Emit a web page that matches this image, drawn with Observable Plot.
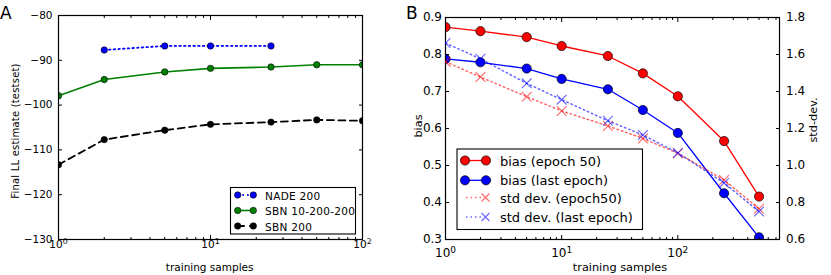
<!DOCTYPE html>
<html><head><meta charset="utf-8">
<script src="https://cdn.jsdelivr.net/npm/d3@7"></script>
<script src="https://cdn.jsdelivr.net/npm/@observablehq/plot@0.6"></script>
<style>
body{margin:0;background:#fff;font-family:"DejaVu Sans",sans-serif;}
#wrap{position:relative;width:831px;height:275px;overflow:hidden;background:#fff}
#wrap svg{position:absolute;top:0}
</style></head><body><div id="wrap"></div>
<script>
// ---- Panel A data ----
const samplesA = [1, 2, 5, 10, 25, 50, 100];
const samplesNade = [2, 5, 10, 25];
const nade200 = [-87.7, -86.8, -86.8, -86.8];
const sbn10_200_200 = [-97.9, -94.3, -92.6, -91.8, -91.5, -91.0, -91.0];
const sbn200 = [-113.3, -107.7, -105.6, -104.3, -103.8, -103.3, -103.5];
const yTicksA = [-130, -120, -110, -100, -90, -80];
const decadesA = [1, 10, 100];
const legendA = ["NADE 200", "SBN 10-200-200", "SBN 200"];

// ---- Panel B data ----
const samplesB = [1, 2, 5, 10, 25, 50, 100, 250, 500];
const biasEpoch50 = [0.874, 0.863, 0.847, 0.823, 0.796, 0.749, 0.687, 0.566, 0.416];
const biasLastEpoch = [0.788, 0.779, 0.762, 0.734, 0.706, 0.650, 0.588, 0.425, 0.306];
const stdEpoch50 = [1.561, 1.478, 1.372, 1.295, 1.214, 1.146, 1.066, 0.922, 0.766];
const stdLastEpoch = [1.662, 1.577, 1.444, 1.356, 1.242, 1.165, 1.068, 0.906, 0.751];
const yTicksB = [0.3, 0.4, 0.5, 0.6, 0.7, 0.8, 0.9];
const yTicksB2 = [0.6, 0.8, 1.0, 1.2, 1.4, 1.6, 1.8];
const decadesB = [1, 10, 100];
const legendB = ["bias (epoch 50)", "bias (last epoch)", "std dev. (epoch50)", "std dev. (last epoch)"];

const W = document.getElementById("wrap");
const FONT = '"DejaVu Sans", sans-serif';
const sup = {"0": "⁰", "1": "¹", "2": "²", "3": "³"};
const fmtPow = d => "10" + sup[Math.round(Math.log10(d))];
const fmtNeg = d => (d < 0 ? "−" : "") + Math.abs(d);
const blank = () => "";
function minor(lo, hi) { const out = []; for (let d = lo; d < hi; d *= 10) for (let k = 2; k <= 9; k++) if (d * k <= hi) out.push(d * k); return out; }
const rows = (xs, ys) => xs.map((n, i) => ({n, v: ys[i]}));

function tickMarks(major, minorT, yT, sides) {
  const m = [];
  for (const a of ["bottom", "top"]) {
    m.push(Plot.axisX(major, {anchor: a, tickSize: -4, tickFormat: blank, label: null}));
    m.push(Plot.axisX(minorT, {anchor: a, tickSize: -2, tickFormat: blank, label: null}));
  }
  for (const a of sides) m.push(Plot.axisY(yT, {anchor: a, tickSize: -4, tickFormat: blank, label: null}));
  return m;
}
function superscripts(svg) {
  svg.querySelectorAll('g[aria-label="x-axis tick label"] text').forEach(t => {
    const s = t.textContent;
    if (!s.startsWith("10") || s.length < 3) return;
    const e = {"⁰": "0", "¹": "1", "²": "2", "³": "3"}[s[2]];
    t.textContent = "10";
    const ts = document.createElementNS("http://www.w3.org/2000/svg", "tspan");
    ts.setAttribute("dy", "-0.45em");
    ts.setAttribute("font-size", "75%");
    ts.textContent = e;
    t.appendChild(ts);
  });
}

// ---------------- Panel A ----------------
const A = Plot.plot({
  width: 400, height: 275, marginLeft: 58, marginRight: 38, marginTop: 15, marginBottom: 36,
  style: {fontFamily: FONT, fontSize: "10.5px", background: "transparent", color: "#000"},
  x: {type: "log", domain: [1, 100]},
  y: {domain: [-130, -80]},
  marks: [
    Plot.line(rows(samplesNade, nade200), {x: "n", y: "v", stroke: "#0000ff", strokeWidth: 1.8, strokeDasharray: "1.5,3.2", clip: true}),
    Plot.dot(rows(samplesNade, nade200), {x: "n", y: "v", r: 3.2, fill: "#0000ff", stroke: "#000", strokeWidth: 0.6, clip: true}),
    Plot.line(rows(samplesA, sbn10_200_200), {x: "n", y: "v", stroke: "#008000", strokeWidth: 1.6, clip: true}),
    Plot.dot(rows(samplesA, sbn10_200_200), {x: "n", y: "v", r: 3.2, fill: "#008000", stroke: "#000", strokeWidth: 0.6, clip: true}),
    Plot.line(rows(samplesA, sbn200), {x: "n", y: "v", stroke: "#000", strokeWidth: 1.8, strokeDasharray: "7,4.5", clip: true}),
    Plot.dot(rows(samplesA, sbn200), {x: "n", y: "v", r: 3.2, fill: "#000", stroke: "#000", strokeWidth: 0.6, clip: true}),
    Plot.axisX(decadesA, {anchor: "bottom", tickSize: 0, tickPadding: 1, tickFormat: fmtPow, label: null}),
    Plot.axisY(yTicksA, {anchor: "left", tickSize: 0, tickPadding: 6, tickFormat: fmtNeg, label: null}),
    ...tickMarks(decadesA, minor(1, 100), yTicksA, ["left", "right"]),
    Plot.frame({stroke: "#000", strokeWidth: 1.2})
  ]
});
A.style.left = "0px";
W.appendChild(A);
superscripts(A);

// ---------------- Panel B ----------------
const dimsB = {width: 431, height: 275, marginLeft: 45, marginRight: 52, marginTop: 17, marginBottom: 36};
const B = Plot.plot({
  ...dimsB,
  style: {fontFamily: FONT, fontSize: "12px", background: "transparent", color: "#000"},
  x: {type: "log", domain: [1, 750]},
  y: {domain: [0.3, 0.9]},
  marks: [
    Plot.line(rows(samplesB, biasEpoch50), {x: "n", y: "v", stroke: "#ff0000", strokeWidth: 1.3, clip: true}),
    Plot.dot(rows(samplesB, biasEpoch50), {x: "n", y: "v", r: 4.6, fill: "#ff0000", stroke: "#000", strokeWidth: 0.7, clip: true}),
    Plot.line(rows(samplesB, biasLastEpoch), {x: "n", y: "v", stroke: "#0000ff", strokeWidth: 1.3, clip: true}),
    Plot.dot(rows(samplesB, biasLastEpoch), {x: "n", y: "v", r: 4.6, fill: "#0000ff", stroke: "#000", strokeWidth: 0.7, clip: true}),
    Plot.axisX(decadesB, {anchor: "bottom", tickSize: 0, tickPadding: 9, tickFormat: fmtPow, label: null}),
    Plot.axisY(yTicksB, {anchor: "left", tickSize: 0, tickPadding: 3.5, tickFormat: d3.format(".1f"), label: null}),
    ...tickMarks(decadesB, minor(1, 750), yTicksB, ["left"]),
    Plot.frame({stroke: "#000", strokeWidth: 1.2})
  ]
});
B.style.left = "400px";
W.appendChild(B);
superscripts(B);

const B2 = Plot.plot({
  ...dimsB,
  style: {fontFamily: FONT, fontSize: "12px", background: "transparent", color: "#000"},
  x: {type: "log", domain: [1, 750], axis: null},
  y: {domain: [0.6, 1.8]},
  marks: [
    Plot.line(rows(samplesB, stdEpoch50), {x: "n", y: "v", stroke: "#ff0000", strokeOpacity: 0.6, strokeWidth: 1.5, strokeDasharray: "1.5,3", clip: true}),
    Plot.dot(rows(samplesB, stdEpoch50), {x: "n", y: "v", symbol: "times", r: 4.5, stroke: "#ff0000", strokeOpacity: 0.6, strokeWidth: 1.1, clip: true}),
    Plot.line(rows(samplesB, stdLastEpoch), {x: "n", y: "v", stroke: "#0000ff", strokeOpacity: 0.6, strokeWidth: 1.5, strokeDasharray: "1.5,3", clip: true}),
    Plot.dot(rows(samplesB, stdLastEpoch), {x: "n", y: "v", symbol: "times", r: 4.5, stroke: "#0000ff", strokeOpacity: 0.6, strokeWidth: 1.1, clip: true}),
    Plot.axisY(yTicksB2, {anchor: "right", tickSize: 0, tickPadding: 6.5, tickFormat: d3.format(".1f"), label: null}),
    Plot.axisY(yTicksB2, {anchor: "right", tickSize: -4, tickFormat: blank, label: null})
  ]
});
B2.style.left = "400px";
W.appendChild(B2);

// ---------------- Overlay: letters, axis titles, legends ----------------
const ov = d3.select(W).append("svg").attr("width", 831).attr("height", 275)
  .style("left", "0px").attr("font-family", FONT).style("pointer-events", "none");
function txt(x, y, s, size, opts = {}) {
  const t = ov.append("text").attr("x", x).attr("y", y).attr("font-size", size).attr("fill", "#000")
    .attr("text-anchor", opts.anchor || "middle").attr("dominant-baseline", "central").text(s);
  if (opts.rotate) t.attr("transform", `rotate(${opts.rotate},${x},${y})`);
  if (opts.ls) t.attr("letter-spacing", opts.ls);
  return t;
}
txt(0, 13, "A", 17, {anchor: "start"});
txt(406, 13, "B", 17, {anchor: "start"});
txt(209.7, 267, "training samples", 10.5);
txt(15, 131, "Final LL estimate (testset)", 10, {rotate: -90, ls: 0.2});
txt(620, 267.5, "training samples", 11.3);
txt(418, 126, "bias", 11.3, {rotate: -90});
txt(813, 120, "std-dev.", 11.3, {rotate: -90});

// Legend A
ov.append("rect").attr("x", 230.5).attr("y", 187.5).attr("width", 125).attr("height", 46.5)
  .attr("fill", "#fff").attr("stroke", "#000").attr("stroke-width", 1.1);
const lgA = [
  {c: "#0000ff", dash: "1.5,3.2", w: 1.8},
  {c: "#008000", dash: null, w: 1.6},
  {c: "#000", dash: "7,4.5", w: 1.8}
];
const rowsA = [195, 210.5, 226];
lgA.forEach((s, i) => {
  const y = rowsA[i];
  ov.append("line").attr("x1", 237.7).attr("x2", 253.3).attr("y1", y).attr("y2", y)
    .attr("stroke", s.c).attr("stroke-width", s.w).attr("stroke-dasharray", s.dash);
  for (const x of [237.7, 253.3]) ov.append("circle").attr("cx", x).attr("cy", y).attr("r", 3.2)
    .attr("fill", s.c).attr("stroke", "#000").attr("stroke-width", 0.6);
  txt(265, y + 0.5, legendA[i], 10.5, {anchor: "start", ls: 0.3});
});

// Legend B
ov.append("rect").attr("x", 457).attr("y", 149).attr("width", 185.5).attr("height", 80.5)
  .attr("fill", "#fff").attr("stroke", "#000").attr("stroke-width", 1.1);
const rowsB = [160.5, 180.3, 197.5, 217];
const lgB = [
  {c: "#ff0000", std: false}, {c: "#0000ff", std: false},
  {c: "#ff0000", std: true}, {c: "#0000ff", std: true}
];
lgB.forEach((s, i) => {
  const y = rowsB[i];
  if (!s.std) {
    ov.append("line").attr("x1", 465).attr("x2", 486).attr("y1", y).attr("y2", y)
      .attr("stroke", s.c).attr("stroke-width", 1.3);
    for (const x of [465, 486]) ov.append("circle").attr("cx", x).attr("cy", y).attr("r", 4.6)
      .attr("fill", s.c).attr("stroke", "#000").attr("stroke-width", 0.7);
  } else {
    ov.append("line").attr("x1", 466).attr("x2", 482).attr("y1", y).attr("y2", y)
      .attr("stroke", s.c).attr("stroke-opacity", 0.6).attr("stroke-width", 1.5).attr("stroke-dasharray", "1.5,3");
    const cx = 485.5, h = 4;
    ov.append("path").attr("d", `M${cx - h},${y - h}L${cx + h},${y + h}M${cx - h},${y + h}L${cx + h},${y - h}`)
      .attr("stroke", s.c).attr("stroke-opacity", 0.6).attr("stroke-width", 1.1).attr("fill", "none");
  }
  txt(500, y + 0.5, legendB[i], 13, {anchor: "start"});
});
</script></body></html>
